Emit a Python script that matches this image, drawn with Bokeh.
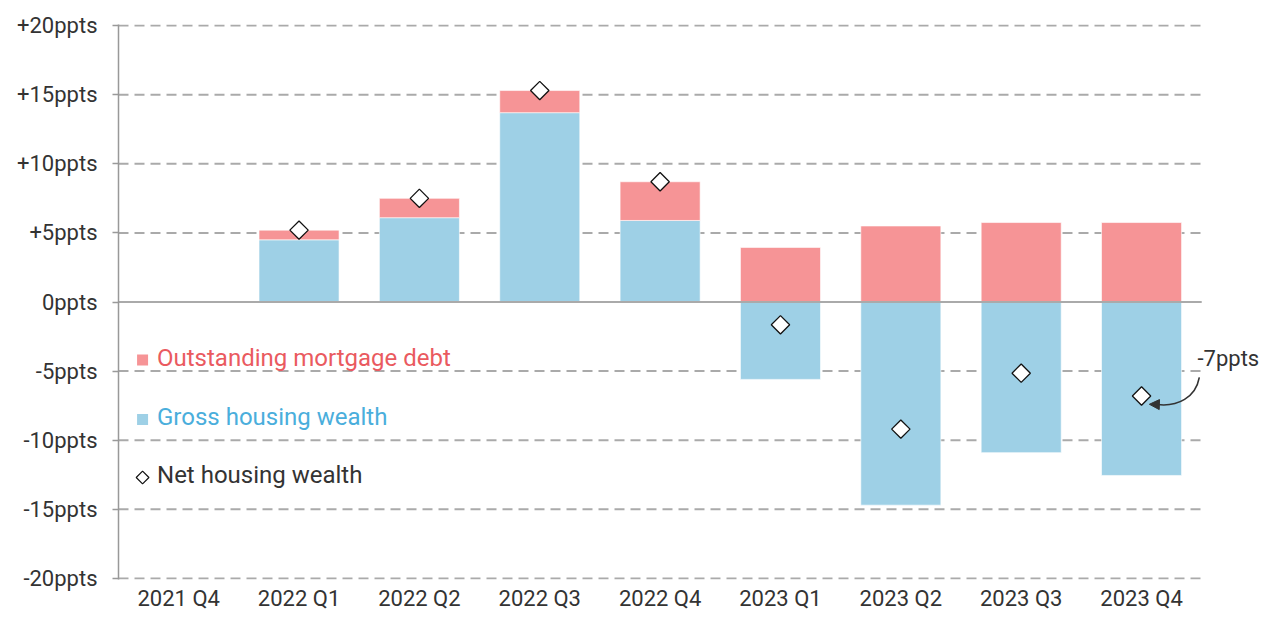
import math
from bokeh.plotting import figure
from bokeh.models import (ColumnDataSource, Range1d, FixedTicker, Label,
                          Arrow, NormalHead)
from bokeh.embed import file_html
from bokeh.resources import INLINE

# ---- data ----
quarters = ["2021 Q4", "2022 Q1", "2022 Q2", "2022 Q3", "2022 Q4",
            "2023 Q1", "2023 Q2", "2023 Q3", "2023 Q4"]
gross = [float("nan"), 4.5, 6.1, 13.7, 5.9, -5.6, -14.7, -10.9, -12.55]
mortgage = [float("nan"), 0.7, 1.4, 1.6, 2.8, 3.95, 5.5, 5.75, 5.75]
net = [float("nan"), 5.2, 7.5, 15.3, 8.7, -1.65, -9.2, -5.15, -6.8]
y_ticks = [-20, -15, -10, -5, 0, 5, 10, 15, 20]
y_tick_labels = ["-20ppts", "-15ppts", "-10ppts", "-5ppts", "0ppts",
                 "+5ppts", "+10ppts", "+15ppts", "+20ppts"]

# ---- styling ----
RED_BAR = "#f69496"
BLUE_BAR = "#9ed0e6"
RED_TXT = "#ea5a5f"
BLUE_TXT = "#4aaedc"
TXT = "#333333"
GRID = "#aaaaaa"
FONT = "Roboto"

xs = list(range(len(quarters)))
red_bottom = [max(g, 0) if not math.isnan(g) else float("nan") for g in gross]
red_top = [b + m for b, m in zip(red_bottom, mortgage)]

src = ColumnDataSource(dict(x=xs, gross=gross, zero=[0] * len(xs),
                            rb=red_bottom, rt=red_top, net=net))

x_lo = -0.5
x_hi = len(quarters) - 0.5

p = figure(width=1259, height=613, output_backend="svg", toolbar_location=None,
           x_range=Range1d(x_lo, 8.98), y_range=Range1d(-20.08, 20.08),
           min_border_left=118, min_border_right=0, min_border_top=24,
           min_border_bottom=0)
p.outline_line_color = None
p.background_fill_color = "white"
p.xgrid.grid_line_color = None
p.ygrid.grid_line_color = None

# grid lines (limited to the category area)
dashed = [t for t in y_ticks if t != 0]
p.segment(x0=[x_lo] * len(dashed), x1=[x_hi] * len(dashed), y0=dashed, y1=dashed,
          line_color=GRID, line_width=2, line_dash="10 6")

# bars
p.vbar(x="x", bottom="zero", top="gross", width=0.665, source=src,
       fill_color=BLUE_BAR, line_color="white", line_width=0.6)
p.vbar(x="x", bottom="rb", top="rt", width=0.665, source=src,
       fill_color=RED_BAR, line_color="white", line_width=0.6)

# zero line
p.segment(x0=[x_lo], x1=[x_hi], y0=[0], y1=[0], line_color=GRID, line_width=2)

# net diamonds
p.scatter(x="x", y="net", source=src, marker="square", angle=math.pi / 4,
          size=13, fill_color="white", line_color="#111111", line_width=1.3)

# axes
p.yaxis.ticker = FixedTicker(ticks=y_ticks)
p.yaxis.major_label_overrides = {t: l for t, l in zip(y_ticks, y_tick_labels)}
p.yaxis.axis_line_color = "#999999"
p.yaxis.axis_line_width = 1.5
p.yaxis.major_tick_line_color = "#999999"
p.yaxis.major_tick_line_width = 1.5
p.yaxis.major_tick_out = 6
p.yaxis.major_tick_in = 0
p.yaxis.minor_tick_line_color = None
p.yaxis.major_label_standoff = 15
p.yaxis.major_label_text_font = FONT
p.yaxis.major_label_text_font_size = "22px"
p.yaxis.major_label_text_color = TXT

p.xaxis.ticker = FixedTicker(ticks=xs)
p.xaxis.major_label_overrides = {i: q for i, q in zip(xs, quarters)}
p.xaxis.axis_line_color = None
p.xaxis.major_tick_line_color = None
p.xaxis.major_tick_out = 0
p.xaxis.major_tick_in = 0
p.xaxis.minor_tick_line_color = None
p.xaxis.major_label_standoff = 6
p.xaxis.major_label_text_font = FONT
p.xaxis.major_label_text_font_size = "22px"
p.xaxis.major_label_text_color = TXT

# legend (custom, coloured text)
leg_x = -0.30
p.scatter(x=[leg_x], y=[-4.2], marker="square", size=11,
          fill_color=RED_BAR, line_color=None)
p.scatter(x=[leg_x], y=[-8.5], marker="square", size=11,
          fill_color=BLUE_BAR, line_color=None)
p.scatter(x=[leg_x], y=[-12.7], marker="square", angle=math.pi / 4, size=9,
          fill_color="white", line_color="#111111", line_width=1.2)
for yy, txt, col in [(-4.05, "Outstanding mortgage debt", RED_TXT),
                     (-8.3, "Gross housing wealth", BLUE_TXT),
                     (-12.5, "Net housing wealth", TXT)]:
    p.add_layout(Label(x=-0.18, y=yy, text=txt, text_color=col,
                       text_font=FONT, text_font_size="24px",
                       text_baseline="middle", text_align="left"))

# annotation
p.add_layout(Label(x=8.465, y=-4.1, text="-7ppts", text_color=TXT,
                   text_font=FONT, text_font_size="22px",
                   text_baseline="middle", text_align="left"))
p.bezier(x0=[8.48], y0=[-5.45], x1=[8.13], y1=[-7.42],
         cx0=[8.45], cy0=[-6.9], cx1=[8.3], cy1=[-7.6],
         line_color=TXT, line_width=1.6)
p.add_layout(Arrow(end=NormalHead(size=10, fill_color=TXT, line_color=TXT),
                   x_start=8.14, y_start=-7.42, x_end=8.065, y_end=-7.4,
                   line_color=TXT, line_width=1.6))

open("out.html", "w").write(file_html(p, INLINE))
